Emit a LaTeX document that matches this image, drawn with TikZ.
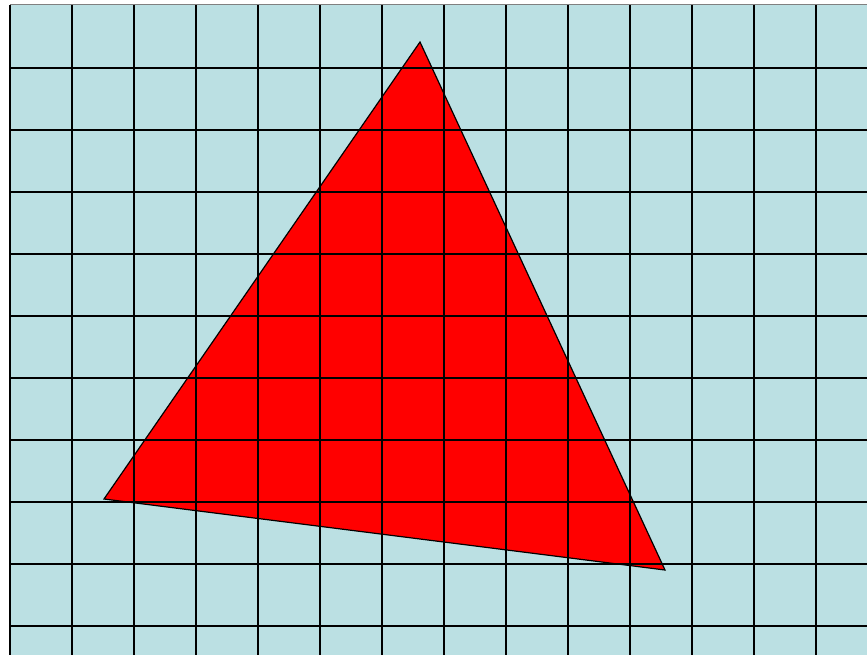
\documentclass[tikz,border=0pt]{standalone}
\usepackage{tikz}
\definecolor{paleblue}{RGB}{187,224,227}
\begin{document}
\begin{tikzpicture}[x=1pt,y=-1pt,line width=1.6pt]
\useasboundingbox (0,0) rectangle (867,655);
\fill[paleblue] (10,5) rectangle (867,655);
% triangle
\coordinate (apex) at (420,42);
\coordinate (left) at (104,499);
\coordinate (right) at (665,570);
\filldraw[fill=red,line width=1.2pt,line join=miter] (apex) -- (left) -- (right) -- cycle;
% grid
\foreach \x in {72,134,...,816} \draw (\x,5) -- (\x,655);
\foreach \y in {68,130,...,626} \draw (10,\y) -- (867,\y);
\draw[gray,line width=1pt] (10,5) -- (867,5);
\draw[line width=2.2pt] (10,5) -- (10,655);
\end{tikzpicture}
\end{document}
